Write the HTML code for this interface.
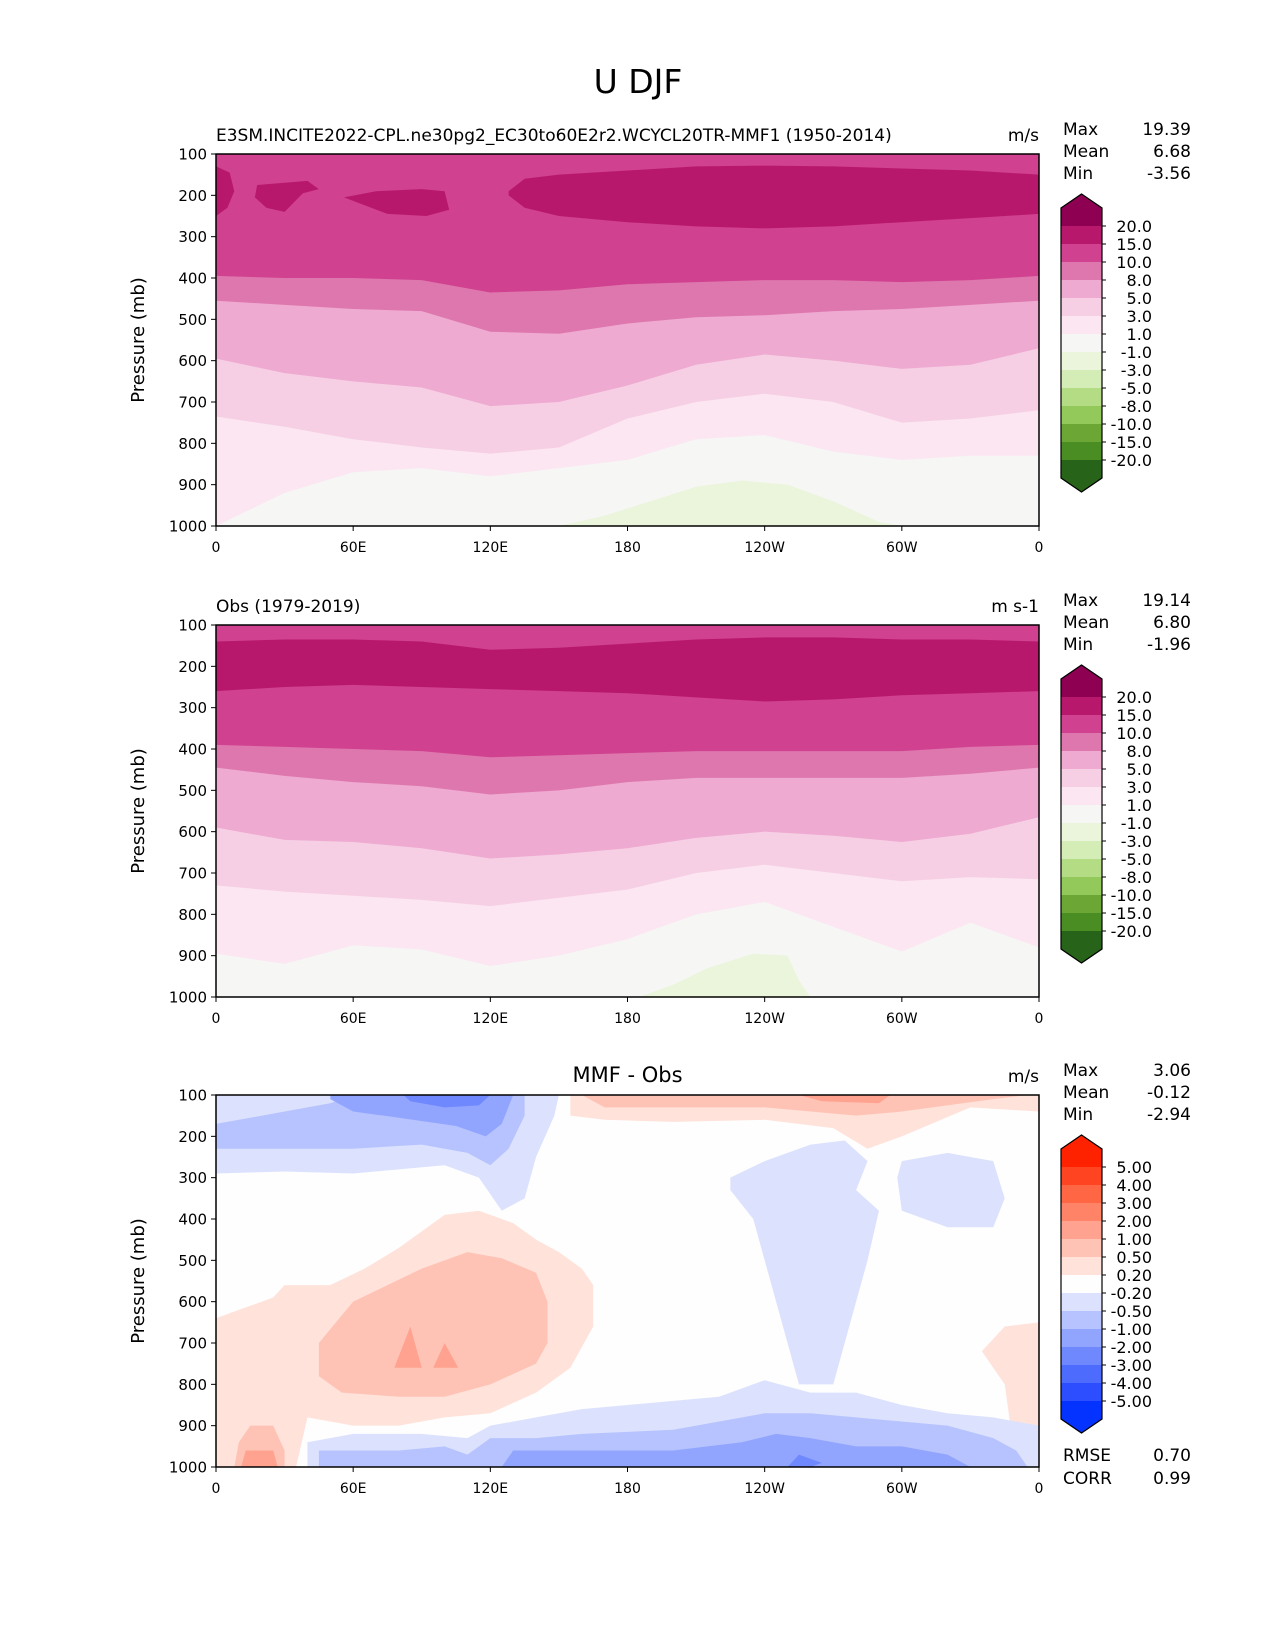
<!DOCTYPE html>
<html><head><meta charset="utf-8"><style>
html,body{margin:0;padding:0;background:#fff;}
svg{display:block;font-family:"DejaVu Sans","Liberation Sans",sans-serif;}
</style></head><body>
<svg id="fig" width="1275" height="1650" viewBox="0 0 1275 1650" xmlns="http://www.w3.org/2000/svg">
<rect width="1275" height="1650" fill="#fff"/>
<text x="638" y="93" font-size="33" text-anchor="middle">U DJF</text>
<g id="root"></g>
</svg>
<script>
// ---------- data ----------
const lonGrid=[0,30,60,90,120,150,180,210,240,270,300,330,360];
const pLevels=[20,15,10,8,5,3,1,-1,-3,-5,-8,-10,-15,-20];
const dLevels=[5,4,3,2,1,0.5,0.2,-0.2,-0.5,-1,-2,-3,-4,-5];
const piyg=['#8e0152','#b8186c','#d0418f','#de77ae','#eeaad0','#f6cfe5','#fbe6f1','#f6f6f5','#eaf5dc','#d4ecb5','#b4dc84','#93c85a','#6ca635','#4a8d22','#276419'];
const bwr=['#ff2200','#ff4422','#ff6644','#ff8366','#ffa390','#ffc3b6','#ffe2da','#fefefe','#dce2fe','#b7c3fe','#92a5fe','#6f88fe','#4d6cfe','#2d4efe','#0433ff'];
// model bands: bottom boundary pressure of region >= level
const mBot1=[1000,920,870,860,880,860,840,790,780,820,840,830,830];
const mBot3=[735,760,790,810,825,810,740,700,680,700,750,740,720];
const mBot5=[595,630,650,665,710,700,660,610,585,600,620,610,570];
const mBot8=[455,465,475,480,530,535,510,495,490,480,475,465,455];
const mBot10=[395,400,400,405,435,430,415,410,405,405,410,405,395];
const mJetLon=[128,135,150,180,210,240,270,300,330,360];
const mJetTop=[190,160,150,140,130,128,130,135,140,150];
const mJetBot=[200,230,250,265,275,280,275,265,255,245];
const mBlobA=[[0,130],[6,145],[8,190],[5,230],[0,250]];
const mBlobB=[[18,175],[40,165],[45,185],[38,195],[30,240],[22,230],[17,205]];
const mBlobC=[[56,205],[70,190],[90,185],[100,190],[102,235],[92,250],[75,245]];
const mGreenLon=[150,170,190,210,230,250,270,290,300];
const mGreenTop=[1000,975,940,905,890,900,940,990,1000];
// obs bands
const oBot1=[895,920,875,885,925,900,860,800,770,830,890,820,880];
const oBot3=[730,745,755,765,780,760,740,700,680,700,720,710,715];
const oBot5=[590,620,625,640,665,655,640,615,600,610,625,605,565];
const oBot8=[445,465,480,490,510,500,480,470,470,470,470,460,445];
const oBot10=[390,395,400,405,420,415,410,405,405,405,405,395,390];
const oJetTop=[140,135,135,140,160,155,145,135,130,130,135,135,140];
const oJetBot=[260,250,245,250,255,260,265,275,285,280,270,265,260];
const oGreenLon=[185,200,215,235,250,255,260];
const oGreenTop=[1000,970,930,895,900,960,1000];
// difference regions [lon,p]
const dR02a=[[0,640],[10,620],[25,590],[30,560],[50,560],[65,520],[80,470],[90,430],[100,390],[115,380],[130,410],[140,450],[150,480],[160,520],[165,560],[165,660],[155,760],[140,820],[120,870],[100,880],[80,900],[60,900],[40,880],[35,1000],[0,1000]];
const dR02b=[[335,720],[345,660],[360,650],[360,1000],[350,1000],[345,800]];
const dR02c=[[155,100],[360,100],[360,140],[330,130],[300,200],[285,230],[270,180],[240,160],[200,165],[170,160],[155,150]];
const dR05a=[[45,700],[60,600],[75,560],[90,520],[110,480],[125,495],[140,530],[145,600],[145,700],[140,750],[120,800],[100,830],[80,830],[55,820],[45,780]];
const dR05b=[[8,1000],[10,940],[15,900],[25,900],[30,960],[30,1000]];
const dR05c=[[160,100],[355,100],[340,110],[300,140],[280,150],[240,130],[200,130],[170,130]];
const dR10a=[[78,760],[85,660],[90,760]];
const dR10b=[[95,760],[100,700],[106,760]];
const dR10c=[[11,1000],[13,960],[25,960],[27,1000]];
const dR10d=[[255,100],[295,100],[290,120],[265,115]];
const dB02a=[[0,100],[150,100],[148,150],[140,250],[135,350],[125,380],[115,300],[100,270],[80,280],[60,290],[30,285],[0,290]];
const dB02b=[[40,1000],[40,940],[60,920],[90,920],[110,930],[120,900],[140,880],[160,860],[180,850],[200,840],[220,830],[240,790],[260,820],[280,820],[300,850],[320,870],[340,880],[360,900],[360,1000]];
const dB02c=[[225,300],[240,260],[260,220],[275,210],[285,260],[280,330],[290,380],[285,500],[280,600],[275,700],[270,800],[255,800],[250,700],[245,600],[240,500],[235,400],[225,330]];
const dB02d=[[300,260],[320,240],[340,260],[345,350],[340,420],[320,420],[300,380],[298,300]];
const dB05a=[[0,170],[30,140],[50,120],[60,100],[135,100],[135,150],[128,230],[120,270],[110,240],[90,220],[60,230],[30,230],[0,230]];
const dB05b=[[45,1000],[45,960],[80,960],[100,950],[110,970],[120,930],[140,930],[160,920],[200,910],[240,870],[260,870],[280,880],[320,900],[340,930],[350,960],[355,1000]];
const dB10a=[[50,100],[130,100],[125,170],[118,200],[105,175],[80,155],[60,140],[50,110]];
const dB10b=[[125,1000],[130,960],[180,960],[200,960],[230,940],[245,920],[260,930],[280,950],[300,950],[320,970],[330,1000]];
const dB20a=[[82,100],[120,100],[115,125],[100,130],[85,115]];
const dB20b=[[250,1000],[255,970],[265,990],[260,1000]];
const yTicks=[100,200,300,400,500,600,700,800,900,1000];
const xTickLon=[0,60,120,180,240,300,360];
const xTickLab=['0','60E','120E','180','120W','60W','0'];
const stats1=['19.39','6.68','-3.56'], stats2=['19.14','6.80','-1.96'], stats3=['3.06','-0.12','-2.94'];
// ---------- drawing ----------
const NS='http://www.w3.org/2000/svg';
const root=document.getElementById('root');
const L=216,W=823,H=372;
function mk(tag,attrs,parent){const e=document.createElementNS(NS,tag);for(const k in attrs)e.setAttribute(k,attrs[k]);(parent||root).appendChild(e);return e;}
function X(lon){return L+lon*W/360;}
function mkY(top){return p=>top+(p-100)*H/900;}
function bandPath(Y,bot){let d='M'+X(0)+','+Y(100)+' L'+X(360)+','+Y(100);for(let i=lonGrid.length-1;i>=0;i--)d+=' L'+X(lonGrid[i])+','+Y(bot[i]);return d+'Z';}
function tbPath(Y,lons,top,bot){let d='';lons.forEach((l,i)=>{d+=(i?' L':'M')+X(l)+','+Y(top[i]);});for(let i=lons.length-1;i>=0;i--)d+=' L'+X(lons[i])+','+Y(bot[i]);return d+'Z';}
function polyPath(Y,pts){return pts.map((q,i)=>(i?'L':'M')+X(q[0])+','+Y(q[1])).join(' ')+'Z';}
function bottomFill(Y,lons,top){let d='M'+X(lons[0])+','+Y(1000);lons.forEach((l,i)=>{d+=' L'+X(l)+','+Y(top[i]);});return d+' L'+X(lons[lons.length-1])+','+Y(1000)+'Z';}
function fillPath(g,d,c,name){const e=mk('path',{d:d,fill:c},g);

}
function axes(top,pid,leftT,rightT,centerT){
  const Y=mkY(top);
  const a=mk('rect',{x:L,y:top,width:W,height:H,fill:'none',stroke:'#000','stroke-width':1.5});
  
  
  yTicks.forEach(p=>{mk('line',{x1:L-5,x2:L,y1:Y(p),y2:Y(p),stroke:'#000'});
    const t=mk('text',{x:L-9,y:Y(p)+5.5,'font-size':15,'text-anchor':'end'});t.textContent=p;
    
    });
  xTickLon.forEach((l,i)=>{mk('line',{x1:X(l),x2:X(l),y1:top+H,y2:top+H+5,stroke:'#000'});
    const t=mk('text',{x:X(l),y:top+H+26,'font-size':14,'text-anchor':'middle'});t.textContent=xTickLab[i];
    
    });
  const yl=mk('text',{x:0,y:0,'font-size':18,'text-anchor':'middle',transform:'translate(144,'+(top+H/2)+') rotate(-90)'});yl.textContent='Pressure (mb)';
  
  
  if(leftT){const t=mk('text',{x:L,y:top-13,'font-size':17});t.textContent=leftT;
    
    }
  if(centerT){const t=mk('text',{x:L+W/2,y:top-13,'font-size':21,'text-anchor':'middle'});t.textContent=centerT;
    
    }
  const u=mk('text',{x:L+W,y:top-13,'font-size':17,'text-anchor':'end'});u.textContent=rightT;
  
  
}
function statsBlock(top,vals,pid){['Max','Mean','Min'].forEach((n,i)=>{
  const a=mk('text',{x:1063,y:top-19+i*22,'font-size':17});a.textContent=n;
  
  
  const b=mk('text',{x:1191,y:top-19+i*22,'font-size':17,'text-anchor':'end'});b.textContent=vals[i];
  
  });}
function colorbar(top,colors,levels,fmt,pid){
  const g=mk('g',{});
  const x0=1061,x1=1102,s=18,first=top+72;
  const shoulder=first-s, bottom=first+(levels.length-1)*s+s;
  mk('path',{d:`M${x0},${shoulder} L${(x0+x1)/2},${shoulder-14} L${x1},${shoulder} L${x1},${first} L${x0},${first}Z`,fill:colors[0]},g);
  for(let i=0;i<levels.length-1;i++)mk('rect',{x:x0,y:first+i*s,width:x1-x0,height:s+0.5,fill:colors[i+1]},g);
  mk('path',{d:`M${x0},${bottom-s} L${x1},${bottom-s} L${x1},${bottom} L${(x0+x1)/2},${bottom+14} L${x0},${bottom}Z`,fill:colors[colors.length-1]},g);
  mk('path',{d:`M${x0},${shoulder} L${(x0+x1)/2},${shoulder-14} L${x1},${shoulder} L${x1},${bottom} L${(x0+x1)/2},${bottom+14} L${x0},${bottom}Z`,fill:'none',stroke:'#000','stroke-width':1.2},g);
  levels.forEach((v,i)=>{const y=first+i*s;mk('line',{x1:x1,x2:x1+4,y1:y,y2:y,stroke:'#000'},g);
    const t=mk('text',{x:1152,y:y+6,'font-size':16,'text-anchor':'end'},g);t.textContent=v.toFixed(fmt);
    
    });
}
function contourPanel(top,pid,b1,b3,b5,b8,b10,jets,greens){
  const Y=mkY(top);
  const g=mk('g',{});
  mk('rect',{x:L,y:top,width:W,height:H,fill:piyg[7]},g);
  greens.forEach(gr=>fillPath(g,bottomFill(Y,gr[0],gr[1]),piyg[8],pid+'-band-neg1'));
  fillPath(g,bandPath(Y,b1),piyg[6],pid+'-band-1');
  fillPath(g,bandPath(Y,b3),piyg[5],pid+'-band-3');
  fillPath(g,bandPath(Y,b5),piyg[4],pid+'-band-5');
  fillPath(g,bandPath(Y,b8),piyg[3],pid+'-band-8');
  fillPath(g,bandPath(Y,b10),piyg[2],pid+'-band-10');
  jets.forEach(j=>fillPath(g,j.length===3?tbPath(Y,j[0],j[1],j[2]):polyPath(Y,j[0]),piyg[1],pid+'-band-15'));
}
const T1=154,T2=625,T3=1095;
contourPanel(T1,'model',mBot1,mBot3,mBot5,mBot8,mBot10,[[mJetLon,mJetTop,mJetBot],[mBlobA],[mBlobB],[mBlobC]],[[mGreenLon,mGreenTop]]);
axes(T1,'model','E3SM.INCITE2022-CPL.ne30pg2_EC30to60E2r2.WCYCL20TR-MMF1 (1950-2014)','m/s',null);
statsBlock(T1,stats1,'model');colorbar(T1,piyg,pLevels,1,'model');
contourPanel(T2,'obs',oBot1,oBot3,oBot5,oBot8,oBot10,[[lonGrid,oJetTop,oJetBot]],[[oGreenLon,oGreenTop]]);
axes(T2,'obs','Obs (1979-2019)','m s-1',null);
statsBlock(T2,stats2,'obs');colorbar(T2,piyg,pLevels,1,'obs');
(function(){const Y=mkY(T3);
  const g=mk('g',{});
  mk('rect',{x:L,y:T3,width:W,height:H,fill:bwr[7]},g);
  [[dR02a,6],[dR02b,6],[dR02c,6],[dR05a,5],[dR05b,5],[dR05c,5],[dR10a,4],[dR10b,4],[dR10c,4],[dR10d,4],
   [dB02a,8],[dB02b,8],[dB02c,8],[dB02d,8],[dB05a,9],[dB05b,9],[dB10a,10],[dB10b,10],[dB20a,11],[dB20b,11]]
   .forEach(r=>fillPath(g,polyPath(Y,r[0]),bwr[r[1]],'diff-region'));
})();
axes(T3,'diff',null,'m/s','MMF - Obs');
statsBlock(T3,stats3,'diff');colorbar(T3,bwr,dLevels,2,'diff');
[['RMSE','0.70',1461],['CORR','0.99',1484]].forEach(r=>{
  const a=mk('text',{x:1063,y:r[2],'font-size':17});a.textContent=r[0];
  
  
  const b=mk('text',{x:1191,y:r[2],'font-size':17,'text-anchor':'end'});b.textContent=r[1];
  
  });
</script>
</body></html>
